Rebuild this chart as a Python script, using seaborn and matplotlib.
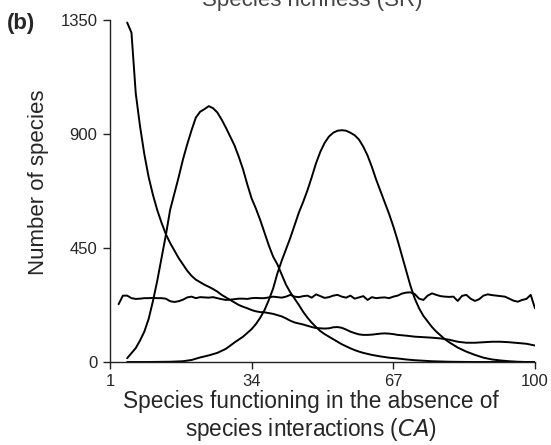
import pandas as pd
import matplotlib
matplotlib.use("Agg")
import matplotlib.pyplot as plt
import seaborn as sns

# ---- data ----
# curve that starts high and decays
ca_decay = [5, 6, 7, 8, 9, 10, 11, 12, 13, 14, 15, 16, 17, 18, 19, 20,
            21, 22, 23, 24, 25, 26, 27, 28, 29, 30, 31, 32, 33, 34, 35, 36,
            37, 38, 39, 40, 41, 42, 43, 44, 45, 46, 47, 48, 49, 50, 51, 52,
            53, 54, 55, 56, 57, 58, 59, 60, 61, 62, 63, 64, 65, 66, 67, 68,
            70, 72, 74, 76, 78, 80, 82, 84, 86, 88, 90, 92, 94, 96, 98, 100]
n_decay = [1340, 1300, 1060, 930, 820, 730, 660, 600, 550, 505, 470, 440,
           410, 385, 360, 340, 325, 315, 305, 297, 288, 278, 265, 255, 245,
           235, 225, 218, 212, 205, 200, 197, 196, 193, 190, 185, 180, 172,
           163, 156, 152, 148, 143, 138, 134, 133, 132, 133, 137, 138, 135,
           128, 120, 114, 109, 107, 107, 108, 110, 112, 113, 112, 110, 107,
           104, 100, 98, 96, 93, 88, 80, 76, 76, 78, 80, 80, 78, 75, 72, 65]

# first hump
ca_hump1 = [5, 6, 7, 8, 9, 10, 11, 12, 13, 14, 15, 16, 17, 18, 19, 20, 21,
            22, 23, 24, 25, 26, 27, 28, 29, 30, 31, 32, 33, 34, 35, 36, 37,
            38, 39, 40, 41, 42, 43, 44, 45, 46, 47, 48, 49, 50, 51, 52, 53,
            54, 55, 56, 57, 58, 59, 60, 62, 64, 66, 68, 70, 72, 74, 76, 78,
            80, 85, 90, 95, 100]
n_hump1 = [15, 35, 55, 85, 120, 170, 240, 320, 410, 500, 600, 665, 730, 800,
           860, 915, 965, 988, 998, 1010, 1002, 985, 957, 925, 890, 855, 810,
           760, 700, 645, 605, 560, 510, 460, 416, 385, 345, 305, 275, 250,
           225, 198, 175, 155, 138, 122, 110, 100, 90, 80, 70, 62, 54, 47, 41,
           36, 28, 22, 17, 14, 10, 7, 5, 3, 2, 1, 0, 0, 0, 0]

# second hump
ca_hump2 = [5, 10, 15, 18, 20, 22, 24, 26, 28, 30, 32, 34, 35, 36, 37, 38,
            39, 40, 41, 42, 43, 44, 45, 46, 47, 48, 49, 50, 51, 52, 53, 54,
            55, 56, 57, 58, 59, 60, 61, 62, 63, 64, 65, 66, 67, 68, 69, 70,
            71, 72, 73, 74, 75, 76, 77, 78, 79, 80, 82, 84, 86, 88, 90, 92,
            94, 96, 98, 100]
n_hump2 = [0, 0, 1, 3, 8, 18, 26, 36, 52, 77, 100, 130, 150, 175, 205, 245,
           290, 350, 400, 445, 490, 540, 590, 632, 678, 730, 785, 830, 865,
           890, 905, 913, 915, 913, 905, 895, 878, 850, 815, 770, 720, 675,
           630, 585, 535, 480, 420, 360, 300, 250, 212, 182, 160, 138, 120,
           105, 90, 78, 57, 41, 28, 17, 10, 6, 3, 1, 0, 0]

# near-flat noisy curve
ca_flat = list(range(3, 101))
n_flat = [228, 262, 262, 252, 249, 250, 252, 252, 253, 252, 252, 250, 240,
          237, 240, 246, 255, 258, 252, 256, 255, 254, 256, 252, 248, 245,
          246, 248, 250, 250, 249, 252, 253, 252, 252, 255, 258, 256, 254,
          258, 265, 258, 256, 260, 262, 254, 267, 260, 253, 256, 262, 265,
          258, 254, 262, 250, 255, 260, 245, 256, 252, 254, 255, 252, 258,
          262, 270, 274, 275, 268, 250, 245, 262, 271, 265, 260, 258, 257,
          258, 241, 261, 265, 250, 241, 248, 262, 267, 264, 262, 260, 258,
          250, 242, 238, 245, 249, 265, 212]

x_ticks = [1, 34, 67, 100]
y_ticks = [0, 450, 900, 1350]

frames = []
for name, xs, ys in [("decay", ca_decay, n_decay),
                     ("hump1", ca_hump1, n_hump1),
                     ("hump2", ca_hump2, n_hump2),
                     ("flat", ca_flat, n_flat)]:
    frames.append(pd.DataFrame({"curve": name, "CA": xs, "species": ys}))
df = pd.concat(frames, ignore_index=True)

sns.set_style("ticks")
plt.rcParams["font.family"] = ["Liberation Sans", "DejaVu Sans"]

fig = plt.figure(figsize=(5.51, 4.45), dpi=100)
ax = fig.add_axes([110 / 551, 83 / 445, 425 / 551, 342 / 445])

sns.lineplot(data=df, x="CA", y="species", units="curve", estimator=None,
             sort=False, color="black", linewidth=1.4, ax=ax)

ax.set_xlim(1, 100)
ax.set_ylim(0, 1350)
ax.set_xticks(x_ticks)
ax.set_yticks(y_ticks)
ax.tick_params(labelsize=12, length=5, width=1, color="#222222", pad=4)
for side in ["top", "right"]:
    ax.spines[side].set_visible(False)
for side in ["left", "bottom"]:
    ax.spines[side].set_color("#222222")
    ax.spines[side].set_linewidth(1.0)

ax.set_ylabel("Number of species", fontsize=16)
ax.yaxis.set_label_coords(-0.143, 0.526)
ax.set_xlabel("Species functioning in the absence of\nspecies interactions ($\\it{CA}$)",
              fontsize=16.3, linespacing=1.15)
ax.xaxis.set_label_coords(0.473, -0.082)

fig.text(312 / 551, 1 - 6 / 445, "Species richness (SR)", ha="center",
         va="baseline", fontsize=16, color="#444444")
fig.text(7 / 551, 1 - 23 / 445, "(b)", ha="left", va="center",
         fontsize=16, fontweight="bold")

fig.savefig("out.png", dpi=100)
